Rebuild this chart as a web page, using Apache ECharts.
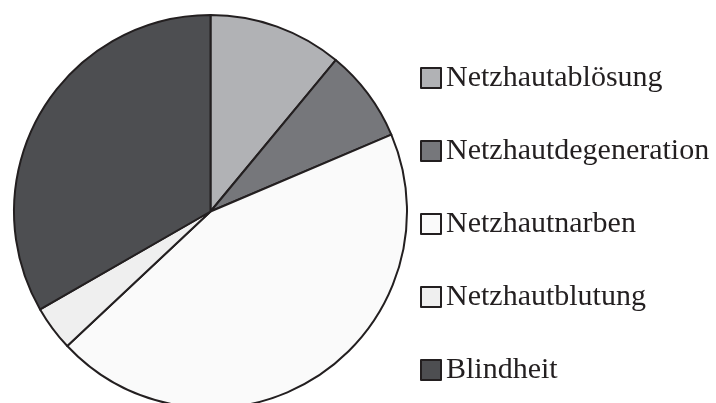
<!DOCTYPE html>
<html lang="de">
<head>
    <meta charset="UTF-8">
    <title>Netzhaut</title>
    <script type="text/javascript" src="https://cdn.jsdelivr.net/npm/echarts@6/dist/echarts.min.js"></script>
    <style>
        html, body { margin: 0; padding: 0; background: #fff; }
    </style>
</head>
<body>
<div id="main" style="width: 716px;height:403px"></div>

<script type="text/javascript">
    // Anteile in Prozent
    var names = ['Netzhautablösung', 'Netzhautdegeneration', 'Netzhautnarben', 'Netzhautblutung', 'Blindheit'];
    var values = [11.0, 7.6, 44.4, 3.7, 33.3];
    var colors = ['#b1b2b5', '#76777b', '#fafafa', '#efefef', '#4d4e51'];

    var chartDom = document.getElementById('main');
    var myChart = echarts.init(chartDom);

    var pieData = [];
    for (var i = 0; i < names.length; i++) {
        pieData.push({
            name: names[i],
            value: values[i],
            itemStyle: { color: colors[i] }
        });
    }

    var option = {
        animation: false,
        color: colors,
        legend: {
            orient: 'vertical',
            left: 415,
            top: 58,
            icon: 'rect',
            itemWidth: 20,
            itemHeight: 20,
            itemGap: 43,
            textStyle: {
                fontFamily: 'Liberation Serif',
                fontSize: 30,
                lineHeight: 28,
                color: '#231f20'
            },
            data: names
        },
        series: [
            {
                type: 'pie',
                center: [210.5, 211.5],
                radius: 196.5,
                startAngle: 90,
                clockwise: true,
                label: { show: false },
                labelLine: { show: false },
                emphasis: { disabled: true },
                itemStyle: {
                    borderColor: '#231f20',
                    borderWidth: 2
                },
                data: pieData
            }
        ]
    };

    option && myChart.setOption(option);
</script>
</body>
</html>
